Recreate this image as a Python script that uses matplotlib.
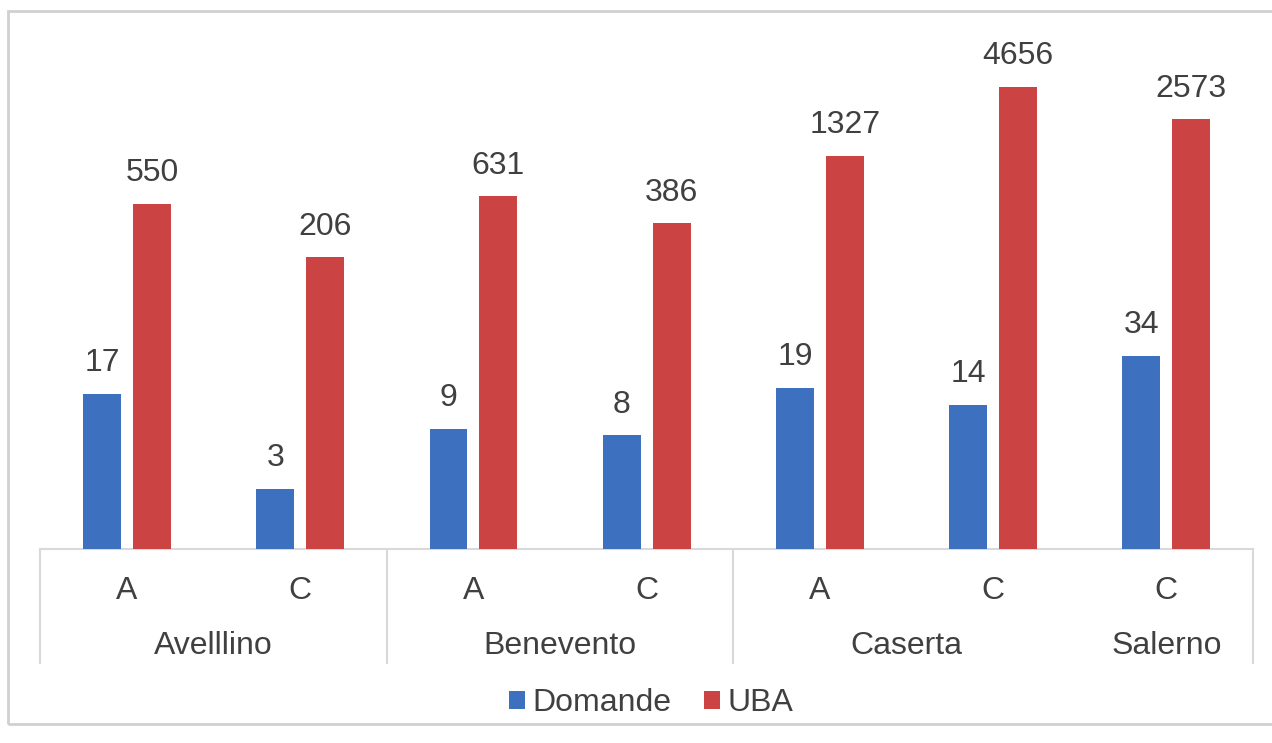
import matplotlib.pyplot as plt
import matplotlib.transforms as mtransforms
from matplotlib.patches import Rectangle
import numpy as np

# Data
sub_labels = ['A', 'C', 'A', 'C', 'A', 'C', 'C']
domande = [17, 3, 9, 8, 19, 14, 34]
uba = [550, 206, 631, 386, 1327, 4656, 2573]
groups = ['Avelllino', 'Benevento', 'Caserta', 'Salerno']
group_spans = [(0, 1), (2, 3), (4, 5), (6, 6)]

blue = '#3d70bf'
red = '#cb4342'
txt = '#404040'
grid_c = '#d9d9d9'
fs = 23

plt.rcParams['font.family'] = ['Liberation Sans', 'DejaVu Sans']

fig = plt.figure(figsize=(12.72, 7.43), dpi=100)
ax = fig.add_axes([0.0318, 0.2611, 0.9532, 0.6783])

# outer frame
fig.patches.append(Rectangle((7.5 / 1272, 19 / 743), 1.1, 713 / 743, transform=fig.transFigure,
                             fill=False, edgecolor='#d0d0d0', lw=2))

x = np.arange(len(sub_labels))
w = 0.219
off = 0.144
b1 = ax.bar(x - off, domande, w, color=blue, label='Domande', zorder=3)
b2 = ax.bar(x + off, uba, w, color=red, label='UBA', zorder=3)
ax.set_yscale('log')
ax.set_ylim(1, 10000)
ax.set_xlim(-0.5, len(sub_labels) - 0.5)

for bars, vals in [(b1, domande), (b2, uba)]:
    for b, v in zip(bars, vals):
        ax.annotate(str(v), (b.get_x() + b.get_width() / 2, v), xytext=(0, 22),
                    textcoords='offset points', ha='center', va='center',
                    fontsize=fs, color=txt)

for s in ax.spines.values():
    s.set_visible(False)
ax.set_xticks([])
ax.set_yticks([])
ax.minorticks_off()

trans = mtransforms.blended_transform_factory(ax.transData, ax.transAxes)
ax.plot([-0.5, len(sub_labels) - 0.5], [0, 0], color=grid_c, lw=1.5, transform=trans,
        clip_on=False, zorder=2)
for xs in [-0.5, 1.5, 3.5, 6.5]:
    ax.plot([xs, xs], [0, -0.226], color=grid_c, lw=1.5, transform=trans, clip_on=False)

for xi, lab in zip(x, sub_labels):
    ax.text(xi, -0.083, lab, transform=trans, ha='center', va='center', fontsize=fs, color=txt)
for g, (a, b) in zip(groups, group_spans):
    ax.text((a + b) / 2, -0.192, g, transform=trans, ha='center', va='center', fontsize=fs, color=txt)

leg = fig.legend(handles=[b1, b2], loc='center', bbox_to_anchor=(0.512, 1 - 703 / 743),
                 ncol=2, frameon=False, fontsize=fs, handlelength=0.5, handleheight=0.5,
                 handletextpad=0.25, columnspacing=1.0, labelcolor=txt)

fig.savefig('out.png', dpi=100)
